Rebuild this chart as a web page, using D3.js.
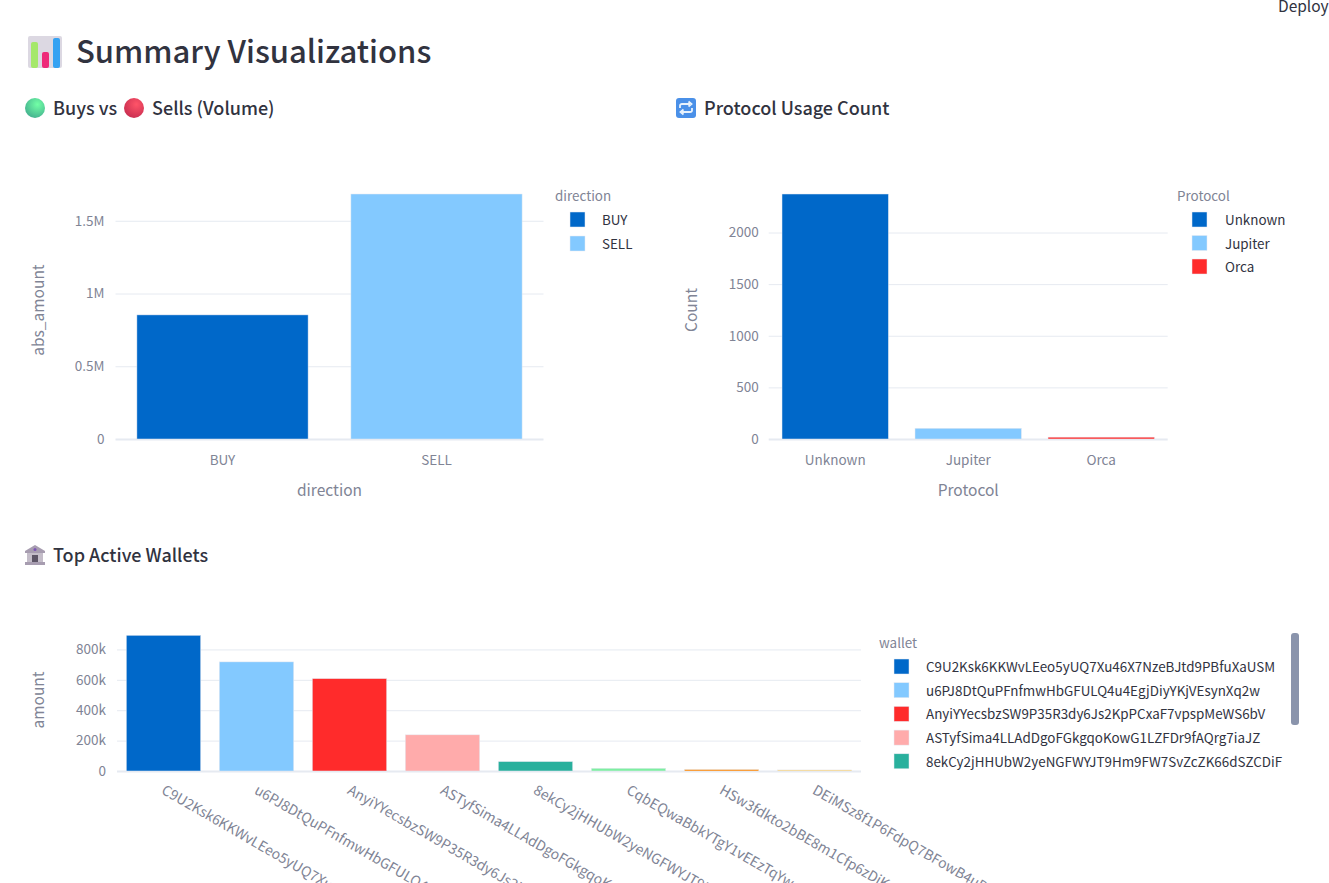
<!DOCTYPE html>
<html>
<head>
<meta charset="utf-8">
<script src="https://cdn.jsdelivr.net/npm/d3@7/dist/d3.min.js"></script>
<style>
  html, body { margin: 0; padding: 0; background: #fff; overflow: hidden; }
  svg { display: block; }
  text { font-family: "Noto Sans CJK SC", "Noto Sans", sans-serif; }
</style>
</head>
<body>
<div id="page"></div>
<script>
const directions = ['BUY', 'SELL'];
const volumes = [853000, 1684000];
const volumeTicks = [0, 500000, 1000000, 1500000];
const volumeTickLabels = ['0', '0.5M', '1M', '1.5M'];

const protocols = ['Unknown', 'Jupiter', 'Orca'];
const protocolCounts = [2373, 104, 18];
const countTicks = [0, 500, 1000, 1500, 2000];

const wallets = [
  'C9U2Ksk6KKWvLEeo5yUQ7Xu46X7NzeBJtd9PBfuXaUSM',
  'u6PJ8DtQuPFnfmwHbGFULQ4u4EgjDiyYKjVEsynXq2w',
  'AnyiYYecsbzSW9P35R3dy6Js2KpPCxaF7vpspMeWS6bV',
  'ASTyfSima4LLAdDgoFGkgqoKowG1LZFDr9fAQrg7iaJZ',
  '8ekCy2jHHUbW2yeNGFWYJT9Hm9FW7SvZcZK66dSZCDiF',
  'CqbEQwaBbkYTgY1vEEzTqYw',
  'HSw3fdkto2bBE8m1Cfp6zDiK',
  'DEiMSz8f1P6FdpQ7BFowB4uP',
];
const walletAmounts = [893000, 718000, 608000, 238000, 62000, 18000, 10000, 7000];
const amountTicks = [0, 200000, 400000, 600000, 800000];
const amountTickLabels = ['0', '200k', '400k', '600k', '800k'];
const walletLegendCount = 5;

const palette = ['#0068c9', '#83c9ff', '#ff2b2b', '#ffabab', '#29b09d', '#7defa1', '#ff8700', '#ffd16a'];
const textColor = '#31333f';
const mutedColor = '#808495';
const gridColor = '#e6eaf1';
const tickSize = '13.5px';
const legendSize = '13.4px';
const titleSize = '15.5px';

const svg = d3.select('#page').append('svg')
  .attr('width', 1329)
  .attr('height', 883);
const defs = svg.append('defs');

function ballGradient(id, light, dark) {
  const g = defs.append('radialGradient').attr('id', id)
    .attr('cx', '0.62').attr('cy', '0.32').attr('r', '0.8');
  g.append('stop').attr('offset', '0').attr('stop-color', light);
  g.append('stop').attr('offset', '1').attr('stop-color', dark);
}
ballGradient('ball-green', '#72ffa6', '#3fa98c');
ballGradient('ball-red', '#ff5468', '#c32a4e');

function barChart(opts) {
  const { categories, values, ticks, tickLabels, left, right, top, bottom, inner, outer } = opts;
  const x = d3.scaleBand().domain(categories).range([left, right])
    .paddingInner(inner).paddingOuter(outer);
  const y = d3.scaleLinear().domain(opts.yDomain).range([bottom, top]);
  const g = svg.append('g');

  // gridlines + y labels
  const yAxis = g.append('g')
    .attr('transform', `translate(${left},0)`)
    .call(d3.axisLeft(y).tickValues(ticks).tickSize(0).tickPadding(opts.yPad)
      .tickFormat((d, i) => (tickLabels ? tickLabels[i] : d)));
  yAxis.select('.domain').remove();
  yAxis.selectAll('text')
    .attr('fill', mutedColor)
    .style('font-size', tickSize)
    .style('font-family', '"Noto Sans CJK SC", "Noto Sans", sans-serif');
  yAxis.selectAll('.tick line')
    .attr('x2', right - left)
    .attr('stroke', gridColor)
    .attr('stroke-width', (d) => (d === 0 ? 2 : 1));

  g.selectAll('rect.bar')
    .data(categories)
    .enter()
    .append('rect')
    .attr('class', 'bar')
    .attr('x', (d) => x(d))
    .attr('y', (d, i) => y(values[i]))
    .attr('width', x.bandwidth())
    .attr('height', (d, i) => y(0) - y(values[i]))
    .attr('fill', (d, i) => palette[i])
    .attr('stroke', gridColor)
    .attr('stroke-width', 0.5);

  const xAxis = g.append('g')
    .attr('transform', `translate(0,${bottom})`)
    .call(d3.axisBottom(x).tickSize(0).tickPadding(opts.xPad));
  xAxis.select('.domain').remove();
  const xLabels = xAxis.selectAll('text')
    .attr('fill', mutedColor)
    .style('font-size', opts.rotate ? '14px' : tickSize)
    .style('font-family', '"Noto Sans CJK SC", "Noto Sans", sans-serif');
  if (opts.rotate) {
    xLabels
      .attr('text-anchor', 'start')
      .attr('x', 0)
      .attr('y', 0)
      .attr('dy', 0)
      .attr('transform', `translate(${opts.labelDx},${opts.labelDy}) rotate(${opts.rotate})`);
  }

  if (opts.xTitle) {
    g.append('text')
      .attr('x', (left + right) / 2)
      .attr('y', opts.xTitleY)
      .attr('text-anchor', 'middle')
      .attr('fill', mutedColor)
      .style('font-size', titleSize)
      .text(opts.xTitle);
  }
  g.append('text')
    .attr('transform', `translate(${opts.yTitleX},${opts.yTitleY}) rotate(-90)`)
    .attr('text-anchor', 'middle')
    .attr('fill', mutedColor)
    .style('font-size', titleSize)
    .text(opts.yTitle);
}

function legend(title, items, x, y, textX, step) {
  const g = svg.append('g');
  g.append('text')
    .attr('x', x)
    .attr('y', y)
    .attr('fill', mutedColor)
    .style('font-size', legendSize)
    .text(title);
  const row = g.selectAll('g.row')
    .data(items)
    .enter()
    .append('g')
    .attr('transform', (d, i) => `translate(0,${y + 19 + i * step})`);
  row.append('rect')
    .attr('x', x + 15)
    .attr('y', -8)
    .attr('width', 15)
    .attr('height', 15)
    .attr('fill', (d, i) => palette[i])
    .attr('stroke', gridColor)
    .attr('stroke-width', 0.5);
  row.append('text')
    .attr('x', textX)
    .attr('y', 5)
    .attr('fill', textColor)
    .style('font-size', legendSize)
    .text((d) => d);
}

barChart({
  categories: directions, values: volumes, ticks: volumeTicks, tickLabels: volumeTickLabels,
  yDomain: [0, 1684000], left: 115.5, right: 543.5, top: 194, bottom: 439, inner: 0.2, outer: 0.1,
  yPad: 11, xPad: 16, xTitle: 'direction', xTitleY: 496, yTitle: 'abs_amount', yTitleX: 44, yTitleY: 310,
});
legend('direction', directions, 555, 201, 602, 24);

barChart({
  categories: protocols, values: protocolCounts, ticks: countTicks,
  yDomain: [0, 2373], left: 768.7, right: 1167.7, top: 194, bottom: 439, inner: 0.2, outer: 0.1,
  yPad: 10, xPad: 16, xTitle: 'Protocol', xTitleY: 496, yTitle: 'Count', yTitleX: 697, yTitleY: 310,
});
legend('Protocol', protocols, 1177, 201, 1225, 23.5);

barChart({
  categories: wallets, values: walletAmounts, ticks: amountTicks, tickLabels: amountTickLabels,
  yDomain: [0, 893000], left: 117, right: 861, top: 635.3, bottom: 771, inner: 0.2, outer: 0.1,
  yPad: 11, xPad: 14, rotate: 30, labelDx: -3, labelDy: 22, yTitle: 'amount', yTitleX: 44, yTitleY: 700,
});
legend('wallet', wallets.slice(0, walletLegendCount), 879, 648, 926, 23.7);

// legend scrollbar
svg.append('rect')
  .attr('x', 1291).attr('y', 633).attr('width', 8).attr('height', 92)
  .attr('rx', 3).attr('fill', '#8a94ac');

// page text
svg.append('text').attr('x', 1278).attr('y', 12).attr('fill', textColor)
  .style('font-size', '15.5px').text('Deploy');
svg.append('text').attr('x', 76).attr('y', 63).attr('fill', textColor)
  .style('font-size', '31px').style('font-weight', 500).text('Summary Visualizations');

const subheads = [
  { label: 'Buys vs', x: 53, y: 115 },
  { label: 'Sells (Volume)', x: 152, y: 115 },
  { label: 'Protocol Usage Count', x: 704, y: 115 },
  { label: 'Top Active Wallets', x: 53, y: 562 },
];
svg.selectAll('text.subhead')
  .data(subheads)
  .enter()
  .append('text')
  .attr('class', 'subhead')
  .attr('x', (d) => d.x)
  .attr('y', (d) => d.y)
  .attr('fill', textColor)
  .style('font-size', '18px')
  .style('font-weight', 500)
  .text((d) => d.label);

// emoji icons, drawn because no colour emoji font is available
const chartIcon = svg.append('g').attr('transform', 'translate(28,36)');
chartIcon.append('rect').attr('width', 34).attr('height', 32).attr('rx', 2).attr('fill', '#dcd8e2');
[[3, 6, 7, 26, '#a5e86a'], [14, 16, 7, 16, '#ee2a79'], [25, 2, 7, 30, '#35a2f2']].forEach((b) => {
  chartIcon.append('rect')
    .attr('x', b[0]).attr('y', b[1]).attr('width', b[2]).attr('height', b[3])
    .attr('rx', 2).attr('fill', b[4]);
});
svg.append('circle').attr('cx', 35).attr('cy', 108).attr('r', 10).attr('fill', 'url(#ball-green)');
svg.append('circle').attr('cx', 134).attr('cy', 108).attr('r', 10).attr('fill', 'url(#ball-red)');

const swapIcon = svg.append('g').attr('transform', 'translate(676,98)');
swapIcon.append('rect').attr('width', 20).attr('height', 20).attr('rx', 3).attr('fill', '#4a90e8');
swapIcon.append('path')
  .attr('d', 'M4 10V7.5Q4 6 6 6H14M12.5 3.5L15.5 6L12.5 8.5M16 10V12.5Q16 14 14 14H6M7.5 11.5L4.5 14L7.5 16.5')
  .attr('fill', 'none').attr('stroke', '#e8f2fc').attr('stroke-width', 1.8);

const bankIcon = svg.append('g').attr('transform', 'translate(25,545)');
bankIcon.append('path').attr('d', 'M10 0L20 6V8H0V6Z').attr('fill', '#a79db0');
bankIcon.append('rect').attr('x', 2).attr('y', 8).attr('width', 16).attr('height', 9).attr('fill', '#c4bdc9');
bankIcon.append('rect').attr('x', 7).attr('y', 10).attr('width', 6).attr('height', 7).attr('fill', '#5d5566');
bankIcon.append('rect').attr('x', 0).attr('y', 17).attr('width', 20).attr('height', 3).attr('fill', '#a79db0');
bankIcon.append('circle').attr('cx', 10).attr('cy', 4.5).attr('r', 1.5).attr('fill', '#7d55b5');
</script>
</body>
</html>
